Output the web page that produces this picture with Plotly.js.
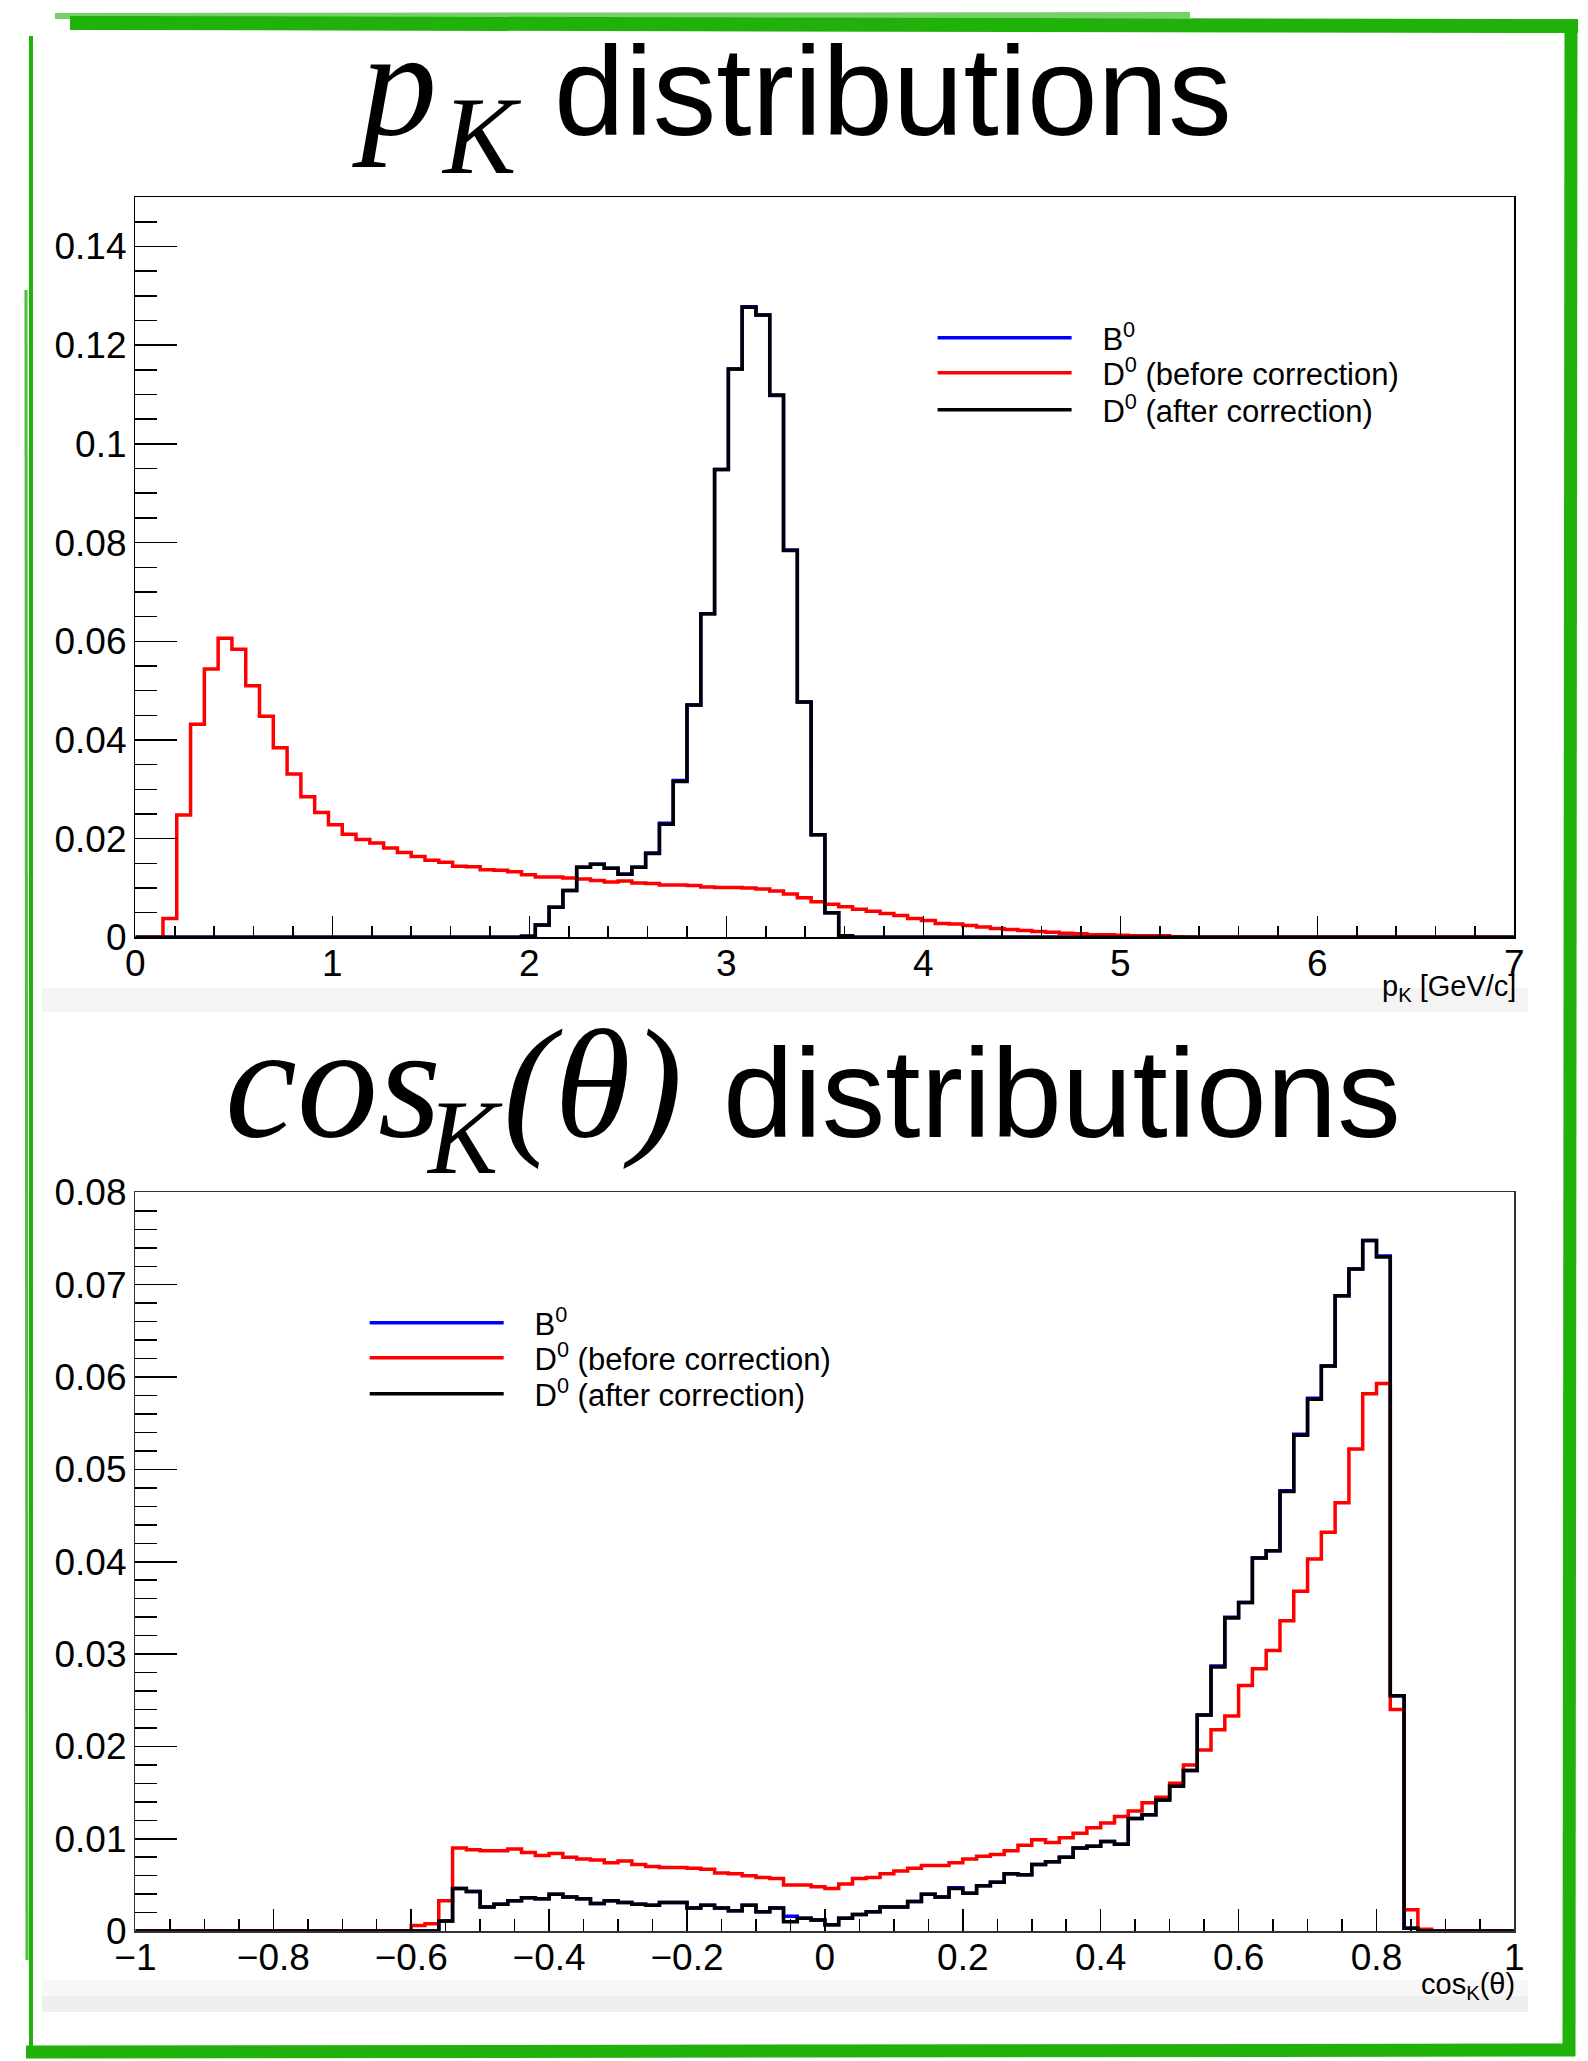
<!DOCTYPE html>
<html>
<head>
<meta charset="utf-8">
<script src="https://cdn.plot.ly/plotly-3.0.1.min.js"></script>
<style>
html,body{margin:0;padding:0;background:#fff;}
#chart{width:1588px;height:2061px;}
</style>
</head>
<body>
<div id="chart"></div>
<script>
// ---------- binning ----------
const pkMin = 0, pkMax = 7;          // 100 bins of 0.07 GeV/c
const cosMin = -1, cosMax = 1;       // 100 bins of 0.02

// ---------- series names ----------
const seriesNames = ['B<sup>0</sup>', 'D<sup>0</sup> (before correction)', 'D<sup>0</sup> (after correction)'];

// ---------- p_K distributions (bin contents) ----------
const pkD0Before = [
0,0,0.0038,0.0248,0.0432,0.0544,0.0606,0.0584,0.0510,0.0448,
0.0384,0.0331,0.0285,0.0253,0.0228,0.0209,0.0198,0.0191,0.0181,0.0172,
0.0164,0.0156,0.0152,0.0144,0.0143,0.0137,0.0136,0.0133,0.0127,0.0122,
0.0122,0.0120,0.0118,0.0115,0.0112,0.0114,0.0110,0.0109,0.0106,0.0106,
0.0105,0.0102,0.0101,0.0101,0.0100,0.0098,0.0094,0.0088,0.0080,0.0072,
0.0067,0.0062,0.0057,0.0053,0.0048,0.0044,0.0038,0.0034,0.0028,0.0027,
0.0024,0.0021,0.0018,0.0016,0.0014,0.0012,0.0010,0.0008,0.0007,0.0005,
0.0005,0.0004,0.0003,0.0003,0.0003,0.0001,0,0,0,0,
0,0,0,0,0,0,0,0,0,0,
0,0,0,0,0,0,0,0,0,0];

const pkD0After = [
0,0,0,0,0,0,0,0,0,0,
0,0,0,0,0,0,0,0,0,0,
0,0,0,0,0,0,0,0,0.0002,0.0025,
0.0061,0.0095,0.0142,0.0148,0.0140,0.0128,0.0142,0.0170,0.0229,0.0316,
0.0471,0.0656,0.0948,0.1152,0.1277,0.1261,0.1099,0.0784,0.0477,0.0208,
0.0050,0.0003,0,0,0,0,0,0,0,0,
0,0,0,0,0,0,0,0,0,0,
0,0,0,0,0,0,0,0,0,0,
0,0,0,0,0,0,0,0,0,0,
0,0,0,0,0,0,0,0,0,0];

const pkB0 = [
0,0,0,0,0,0,0,0,0,0,
0,0,0,0,0,0,0,0,0,0,
0,0,0,0,0,0,0,0,0.0002,0.0025,
0.0061,0.0095,0.0142,0.0148,0.0140,0.0128,0.0142,0.0171,0.0231,0.0318,
0.0471,0.0656,0.0948,0.1152,0.1278,0.1261,0.1098,0.0785,0.0477,0.0208,
0.0050,0.0003,0,0,0,0,0,0,0,0,
0,0,0,0,0,0,0,0,0,0,
0,0,0,0,0,0,0,0,0,0,
0,0,0,0,0,0,0,0,0,0,
0,0,0,0,0,0,0,0,0,0];

// ---------- cos_K(theta) distributions (bin contents) ----------
const cosD0Before = [
0,0,0,0,0,0,0,0,0,0,
0,0,0,0,0,0,0,0,0,0,
0.0006,0.0008,0.0033,0.0090,0.0088,0.0087,0.0087,0.0089,0.0085,0.0082,
0.0084,0.0080,0.0078,0.0077,0.0074,0.0076,0.0072,0.0070,0.0069,0.0069,
0.0068,0.0067,0.0063,0.0062,0.0060,0.0058,0.0057,0.0050,0.0050,0.0048,
0.0046,0.0051,0.0057,0.0058,0.0062,0.0065,0.0068,0.0071,0.0071,0.0074,
0.0078,0.0081,0.0083,0.0087,0.0093,0.0099,0.0096,0.0101,0.0106,0.0112,
0.0117,0.0124,0.0130,0.0139,0.0145,0.0160,0.0180,0.0196,0.0218,0.0233,
0.0266,0.0284,0.0304,0.0336,0.0368,0.0403,0.0432,0.0464,0.0522,0.0582,
0.0593,0.0240,0.0023,0.0002,0,0,0,0,0,0];

const cosD0After = [
0,0,0,0,0,0,0,0,0,0,
0,0,0,0,0,0,0,0,0,0,
0,0,0.0011,0.0046,0.0043,0.0026,0.0029,0.0033,0.0036,0.0035,
0.0040,0.0037,0.0035,0.0030,0.0033,0.0031,0.0029,0.0028,0.0031,0.0031,
0.0025,0.0028,0.0025,0.0022,0.0028,0.0021,0.0025,0.0010,0.0014,0.0012,
0.0007,0.0014,0.0018,0.0021,0.0026,0.0026,0.0032,0.0040,0.0037,0.0046,
0.0041,0.0049,0.0053,0.0062,0.0061,0.0072,0.0075,0.0080,0.0090,0.0092,
0.0097,0.0094,0.0122,0.0126,0.0142,0.0157,0.0174,0.0234,0.0286,0.0339,
0.0356,0.0404,0.0412,0.0476,0.0537,0.0576,0.0612,0.0688,0.0717,0.0748,
0.0730,0.0255,0.0003,0,0,0,0,0,0,0];

const cosB0 = [
0,0,0,0,0,0,0,0,0,0,
0,0,0,0,0,0,0,0,0,0,
0,0,0.0011,0.0046,0.0043,0.0026,0.0029,0.0033,0.0036,0.0035,
0.0040,0.0037,0.0035,0.0030,0.0033,0.0031,0.0029,0.0028,0.0031,0.0031,
0.0025,0.0028,0.0025,0.0022,0.0028,0.0021,0.0025,0.0016,0.0014,0.0012,
0.0007,0.0014,0.0018,0.0021,0.0026,0.0026,0.0032,0.0040,0.0037,0.0047,
0.0041,0.0049,0.0053,0.0062,0.0061,0.0072,0.0075,0.0080,0.0090,0.0092,
0.0097,0.0094,0.0122,0.0126,0.0142,0.0157,0.0174,0.0234,0.0287,0.0340,
0.0356,0.0404,0.0412,0.0477,0.0538,0.0577,0.0612,0.0688,0.0717,0.0748,
0.0731,0.0255,0.0003,0,0,0,0,0,0,0];

// ---------- helpers ----------
const W = 1588, H = 2061;
const px = v => v / W;
const py = v => 1 - v / H;
const GAP = '\u00a0\u00a0\u00a0';   // space between legend line and label

function stepTrace(values, lo, hi, name, color, xa, ya, legend) {
  const w = (hi - lo) / values.length;
  const x = values.map((_, i) => lo + i * w);
  x.push(hi);
  const y = values.concat([values[values.length - 1]]);
  return {
    type: 'scatter', mode: 'lines', x: x, y: y, name: GAP + name,
    line: {shape: 'hv', color: color, width: 3.5},
    xaxis: xa, yaxis: ya, legend: legend, hoverinfo: 'skip'
  };
}

const traces = [
  stepTrace(pkB0, pkMin, pkMax, seriesNames[0], '#0000ff', 'x', 'y', 'legend'),
  stepTrace(pkD0Before, pkMin, pkMax, seriesNames[1], '#ff0000', 'x', 'y', 'legend2'),
  stepTrace(pkD0After, pkMin, pkMax, seriesNames[2], '#000000', 'x', 'y', 'legend3'),
  stepTrace(cosB0, cosMin, cosMax, seriesNames[0], '#0000ff', 'x2', 'y2', 'legend4'),
  stepTrace(cosD0Before, cosMin, cosMax, seriesNames[1], '#ff0000', 'x2', 'y2', 'legend5'),
  stepTrace(cosD0After, cosMin, cosMax, seriesNames[2], '#000000', 'x2', 'y2', 'legend6')
];

const tickFont = {family: 'Liberation Sans, Arial, sans-serif', size: 37, color: '#000'};

function axisBase(extra) {
  return Object.assign({
    showline: true, mirror: true, linecolor: '#000', linewidth: 1.5,
    ticks: 'inside', tickcolor: '#000', tickwidth: 1.5,
    showgrid: false, zeroline: false, fixedrange: true,
    tickfont: tickFont
  }, extra);
}

const GREEN = '#20b10a';
const shapes = [
  // light grey strips at the bottom of each pad
  {type: 'rect', xref: 'paper', yref: 'paper', x0: px(42), x1: px(1528), y0: py(1012), y1: py(988),
   fillcolor: '#f4f4f4', line: {width: 0}, layer: 'below'},
  {type: 'rect', xref: 'paper', yref: 'paper', x0: px(42), x1: px(1528), y0: py(1996), y1: py(1980),
   fillcolor: '#f8f8f8', line: {width: 0}, layer: 'below'},
  {type: 'rect', xref: 'paper', yref: 'paper', x0: px(42), x1: px(1528), y0: py(2012), y1: py(1996),
   fillcolor: '#efefef', line: {width: 0}, layer: 'below'},
  // hand-drawn green frame
  {type: 'line', xref: 'paper', yref: 'paper', x0: px(70), y0: py(23), x1: px(1578), y1: py(26), line: {color: GREEN, width: 14}},
  {type: 'line', xref: 'paper', yref: 'paper', x0: px(55), y0: py(16), x1: px(1190), y1: py(15), line: {color: GREEN, width: 6}, opacity: 0.6},
  {type: 'line', xref: 'paper', yref: 'paper', x0: px(1571), y0: py(22), x1: px(1569), y1: py(2056), line: {color: GREEN, width: 13}},
  {type: 'line', xref: 'paper', yref: 'paper', x0: px(26), y0: py(2052), x1: px(1575), y1: py(2050), line: {color: GREEN, width: 13}},
  {type: 'line', xref: 'paper', yref: 'paper', x0: px(31), y0: py(36), x1: px(31), y1: py(2058), line: {color: GREEN, width: 4}},
  {type: 'line', xref: 'paper', yref: 'paper', x0: px(26), y0: py(290), x1: px(27), y1: py(1960), line: {color: GREEN, width: 3}, opacity: 0.8}
];

const serif = 'Liberation Serif, Times New Roman, serif';
const sans = 'Liberation Sans, Arial, sans-serif';
function ann(text, x, y, xanchor, yanchor, family, size, style) {
  return {text: text, xref: 'paper', yref: 'paper', x: px(x), y: py(y), xanchor: xanchor, yanchor: yanchor,
          showarrow: false, borderpad: 0, borderwidth: 0,
          font: {family: family, size: size, color: '#000', style: style || 'normal'}};
}

const annotations = [
  // top title: p_K distributions
  ann('p', 352, 167, 'left', 'bottom', serif, 152, 'italic'),
  ann('K', 441, 197, 'left', 'bottom', serif, 110, 'italic'),
  ann('distributions', 893, 162, 'center', 'bottom', sans, 127),
  // bottom title: cos_K(theta) distributions
  ann('cos', 225, 1171, 'left', 'bottom', serif, 162, 'italic'),
  ann('K', 426, 1196, 'left', 'bottom', serif, 105, 'italic'),
  ann('(θ)', 503, 1170, 'left', 'bottom', serif, 155, 'italic'),
  ann('distributions', 1062, 1164, 'center', 'bottom', sans, 127),
  // axis titles
  ann('p<sub>K</sub> [GeV/c]', 1516, 970, 'right', 'top', sans, 29),
  ann('cos<sub>K</sub>(θ)', 1515, 1968, 'right', 'top', sans, 29)
];

function legendAt(xLine, yTop) {
  return {
    x: px(xLine - 6), y: py(yTop), xanchor: 'left', yanchor: 'top',
    bgcolor: 'rgba(0,0,0,0)', borderwidth: 0,
    font: {family: sans, size: 31, color: '#000'}, itemwidth: 134,
    itemclick: false, itemdoubleclick: false
  };
}

const layout = {
  width: W, height: H,
  margin: {l: 0, r: 0, t: 0, b: 0, pad: 0},
  paper_bgcolor: '#fff', plot_bgcolor: '#fff',
  showlegend: true,
  xaxis: axisBase({domain: [px(135.4), px(1514.4)], anchor: 'y', range: [pkMin, pkMax],
    tick0: 0, dtick: 1, ticklen: 21, ticklabelstandoff: -7,
    minor: {dtick: 0.2, tick0: 0, ticks: 'inside', ticklen: 11, tickwidth: 1.5, tickcolor: '#000', showgrid: false}}),
  yaxis: axisBase({domain: [py(937.3), py(197.2)], anchor: 'x', range: [0, 0.15],
    tick0: 0, dtick: 0.02, ticklen: 42,
    minor: {dtick: 0.005, tick0: 0, ticks: 'inside', ticklen: 22, tickwidth: 1.5, tickcolor: '#000', showgrid: false}}),
  xaxis2: axisBase({domain: [px(135.4), px(1514.4)], anchor: 'y2', range: [cosMin, cosMax],
    tick0: 0, dtick: 0.2, ticklen: 22, linecolor: '#333', ticklabelstandoff: -7,
    minor: {dtick: 0.05, tick0: 0, ticks: 'inside', ticklen: 12, tickwidth: 1.5, tickcolor: '#000', showgrid: false}}),
  yaxis2: axisBase({domain: [py(1931.1), py(1192.4)], anchor: 'x2', range: [0, 0.08],
    tick0: 0, dtick: 0.01, ticklen: 42, linecolor: '#333',
    minor: {dtick: 0.002, tick0: 0, ticks: 'inside', ticklen: 22, tickwidth: 1.5, tickcolor: '#000', showgrid: false}}),
  legend: legendAt(938.6, 311),
  legend2: legendAt(938.6, 346),
  legend3: legendAt(938.6, 383),
  legend4: legendAt(370.7, 1296),
  legend5: legendAt(370.7, 1331),
  legend6: legendAt(370.7, 1367),
  shapes: shapes,
  annotations: annotations
};

Plotly.newPlot('chart', traces, layout, {displayModeBar: false, staticPlot: true});
</script>
</body>
</html>
